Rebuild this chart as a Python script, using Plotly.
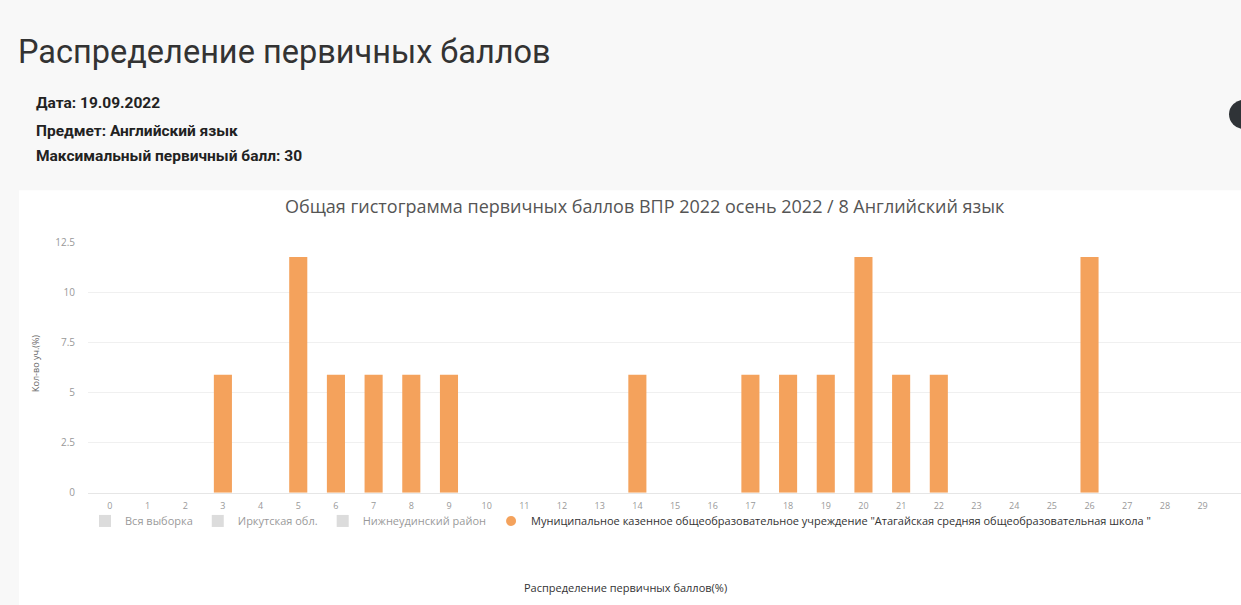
import plotly.graph_objects as go

W, H = 1241, 605

scores = list(range(0, 31))
school_pct = [0, 0, 0, 5.88, 0, 11.76, 5.88, 5.88, 5.88, 5.88,
              0, 0, 0, 0, 5.88, 0, 0, 5.88, 5.88, 5.88,
              11.76, 5.88, 5.88, 0, 0, 0, 11.76, 0, 0, 0, 0]
hidden_series = ["Вся выборка", "Иркутская обл.", "Нижнеудинский район"]
school_name = 'Муниципальное казенное общеобразовательное учреждение "Атагайская средняя общеобразовательная школа "'
y_ticks = [0, 2.5, 5, 7.5, 10, 12.5]
y_tick_text = ["0", "2.5", "5", "7.5", "10", "12.5"]

page_title = "Распределение первичных баллов"
info_lines = ["Дата: 19.09.2022", "Предмет: Английский язык", "Максимальный первичный балл: 30"]
chart_title = "Общая гистограмма первичных баллов ВПР 2022 осень 2022 / 8 Английский язык"
x_title = "Распределение первичных баллов(%)"
y_title = "Кол-во уч.(%)"

ORANGE = "#f4a25c"


def px(x):
    return x / W


def py(y):
    return 1 - y / H


fig = go.Figure()
for name in hidden_series:
    fig.add_trace(go.Bar(x=scores, y=[0] * len(scores), name=name, visible="legendonly",
                         marker_color="#bbbbbb", marker_line_width=0))
fig.add_trace(go.Bar(x=scores, y=school_pct, name=school_name, marker_color=ORANGE,
                     marker_line_width=0,
                     showlegend=False, legendgroup="school", hoverinfo="x+y"))
fig.add_trace(go.Scatter(x=[None], y=[None], mode="markers", name=school_name,
                         legendgroup="school",
                         marker=dict(symbol="circle", size=10, color=ORANGE)))

shapes = [
    dict(type="rect", xref="paper", yref="paper", x0=px(19), x1=1.02, y0=-0.02, y1=py(187),
         fillcolor="white", line=dict(width=0), layer="below"),
    dict(type="circle", xref="paper", yref="paper", x0=px(1229), x1=px(1259), y0=py(124), y1=py(94),
         fillcolor="#2f3337", line=dict(width=0)),
]

annotations = [
    dict(text=page_title, x=px(16), y=py(45), xref="paper", yref="paper", xanchor="left",
         yanchor="middle", showarrow=False, font=dict(family="Roboto", size=32.5, color="#333333")),
    dict(text=chart_title, x=px(645), y=py(203), xref="paper", yref="paper", xanchor="center",
         yanchor="middle", showarrow=False, font=dict(family="Open Sans", size=18, color="#555555")),
    dict(text=x_title, x=px(625), y=py(594), xref="paper", yref="paper",
         xanchor="center", yanchor="middle", showarrow=False,
         font=dict(family="Open Sans", size=11, color="#333333")),
    dict(text=y_title, x=px(36), y=py(365), xref="paper", yref="paper", textangle=-90,
         xanchor="center", yanchor="middle", showarrow=False,
         font=dict(family="Open Sans", size=9, color="#666666")),
]
for t, yy in zip(info_lines, [97, 126, 152]):
    annotations.append(dict(text="<b>" + t + "</b>", x=px(34), y=py(yy), xref="paper", yref="paper",
                            xanchor="left", yanchor="middle", showarrow=False,
                            font=dict(family="Roboto", size=15.5, color="#222222")))

fig.update_layout(
    width=W, height=H, margin=dict(l=0, r=0, t=0, b=0),
    paper_bgcolor="#f8f8f8", plot_bgcolor="white",
    bargap=0.52, showlegend=True,
    font=dict(family="Open Sans", color="#999999", size=10),
    shapes=shapes, annotations=annotations,
    legend=dict(orientation="h", x=px(85), y=py(526), xanchor="left", yanchor="middle",
                bgcolor="rgba(0,0,0,0)", font=dict(size=11, color="#333333"),
                itemclick=False, itemdoubleclick=False),
    xaxis=dict(domain=[px(88), 1], range=[-0.58, 30.02], tickmode="array", tickvals=scores,
               ticktext=[str(s) for s in scores], showgrid=False, zeroline=False,
               showline=True, linecolor="#e6e6e6", tickfont=dict(size=9, color="#999999"),
               ticks="", ticklabelstandoff=5, fixedrange=True),
    yaxis=dict(domain=[py(497), py(240)], range=[0, 12.5], tickvals=y_ticks,
               ticktext=y_tick_text, showgrid=True,
               gridcolor="#f0f0f0", zeroline=False, tickfont=dict(size=10, color="#999999"),
               ticklabelstandoff=12, fixedrange=True),
)

fig.write_html("out.html", config={"displayModeBar": False})

with open("out.html", "r", encoding="utf-8") as f:
    html = f.read()
html = html.replace("<body>", '<body style="margin:0;overflow:hidden">', 1)
with open("out.html", "w", encoding="utf-8") as f:
    f.write(html)
